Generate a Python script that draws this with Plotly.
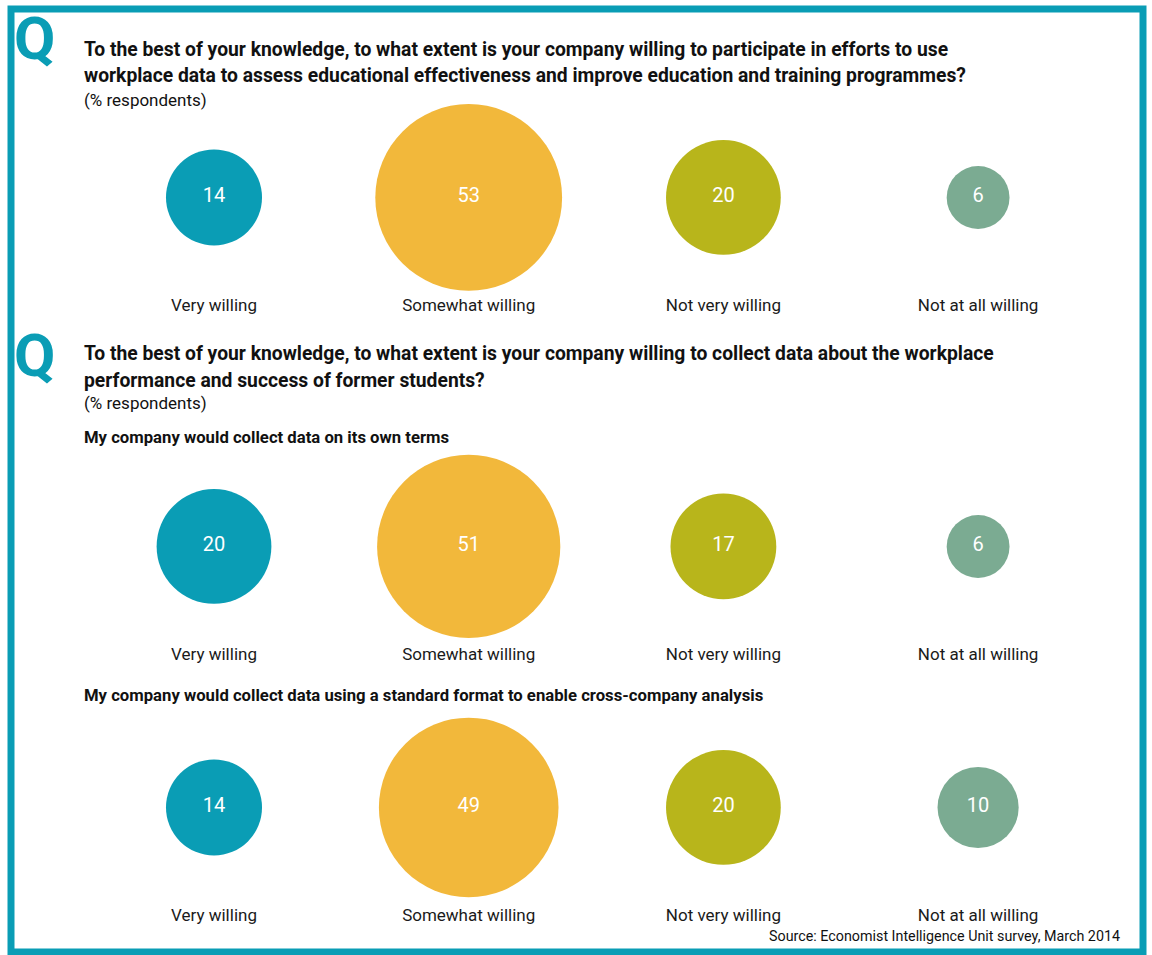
import plotly.graph_objects as go

# ---- data ----
categories = ["Very willing", "Somewhat willing", "Not very willing", "Not at all willing"]
q1_participate = [14, 53, 20, 6]
q2_own_terms = [20, 51, 17, 6]
q2_standard_format = [14, 49, 20, 10]
colors = ["#0a9db5", "#f2b83b", "#b8b51b", "#7bab92"]

q1_title = ["To the best of your knowledge, to what extent is your company willing to participate in efforts to use",
            "workplace data to assess educational effectiveness and improve education and training programmes?"]
q2_title = ["To the best of your knowledge, to what extent is your company willing to collect data about the workplace",
            "performance and success of former students?"]
sub_unit = "(% respondents)"
q2_sub_a = "My company would collect data on its own terms"
q2_sub_b = "My company would collect data using a standard format to enable cross-company analysis"
source = "Source: Economist Intelligence Unit survey, March 2014"

W, H = 1152, 955
TEAL = "#0a9db5"
FONT = "Roboto, Liberation Sans, sans-serif"

def py(p):
    return 1 - p / H

fig = go.Figure()

rows = [q1_participate, q2_own_terms, q2_standard_format]
# (top px, bottom px) of each row's y-domain
domains = [(97, 293), (446, 642), (707, 903)]
xrange_ = [-214 / 254.7, (W - 214) / 254.7]

# area-proportional bubbles: radius = k*sqrt(v)
k = 12.83
sizeref = 1 / (2 * k * k)

for i, vals in enumerate(rows):
    n = "" if i == 0 else str(i + 1)
    fig.add_trace(go.Scatter(
        x=categories, y=[0] * len(categories),
        xaxis="x" + n, yaxis="y" + n,
        mode="markers+text",
        text=[str(v) for v in vals],
        textposition="middle center",
        textfont=dict(color="white", size=20, family=FONT),
        marker=dict(size=vals, sizemode="area", sizeref=sizeref,
                    color=colors, line=dict(width=0), opacity=1),
        cliponaxis=False, hoverinfo="skip", showlegend=False,
    ))
    top, bot = domains[i]
    fig.layout["xaxis" + n] = dict(
        domain=[0, 1], range=xrange_, type="category",
        categoryorder="array", categoryarray=categories,
        anchor="y" + n, showgrid=False, zeroline=False, showline=False,
        ticks="", tickfont=dict(size=17, family=FONT, color="#1a1a1a"),
        fixedrange=True,
    )
    fig.layout["yaxis" + n] = dict(
        domain=[py(bot), py(top)], range=[-0.975, 1.025], anchor="x" + n,
        showgrid=False, zeroline=False, showline=False, showticklabels=False,
        fixedrange=True,
    )

ann = []
def text(x, y, s, size, bold=False, color="#111111", xanchor="left"):
    ann.append(dict(x=x / W, y=py(y), xref="paper", yref="paper",
                    text=("<b>%s</b>" % s) if bold else s, showarrow=False,
                    xanchor=xanchor, yanchor="middle",
                    font=dict(size=size, family=FONT, color=color)))

# Q marks
text(12, 39, "Q", 60, bold=True, color=TEAL)
text(12, 355, "Q", 60, bold=True, color=TEAL)

text(82, 50, q1_title[0], 19.3, bold=True)
text(82, 75, q1_title[1], 19.3, bold=True)
text(82, 100, sub_unit, 17)

text(82, 354, q2_title[0], 19.3, bold=True)
text(82, 380, q2_title[1], 19.3, bold=True)
text(82, 403, sub_unit, 17)

text(82, 437, q2_sub_a, 16.7, bold=True)
text(82, 695, q2_sub_b, 16.7, bold=True)

text(1122, 936, source, 14.3, xanchor="right")

fig.update_layout(
    width=W, height=H,
    margin=dict(l=0, r=0, t=0, b=0),
    paper_bgcolor="white", plot_bgcolor="rgba(0,0,0,0)",
    annotations=ann,
    shapes=[dict(type="rect", xref="paper", yref="paper",
                 x0=11 / W, x1=1143 / W, y0=py(952), y1=py(9),
                 line=dict(color=TEAL, width=7), fillcolor="rgba(0,0,0,0)",
                 layer="below")],
)

fig.write_html("out.html", config={"displayModeBar": False},
               post_script="document.body.style.margin='0';document.body.style.overflow='hidden';")
